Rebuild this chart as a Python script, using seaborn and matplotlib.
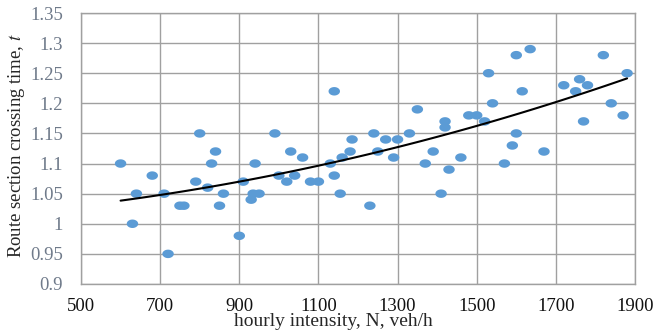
import numpy as np
import pandas as pd
import matplotlib
matplotlib.use("Agg")
import matplotlib.pyplot as plt
from matplotlib.path import Path
import seaborn as sns

intensity = [600, 630, 640, 680, 710, 720, 750, 760, 790, 800, 820, 830, 840, 850, 860,
             900, 910, 930, 935, 940, 950, 990, 1000, 1020, 1030, 1040, 1060, 1080, 1100, 1130,
             1140, 1140, 1155, 1160, 1180, 1185, 1230, 1240, 1250, 1270, 1290, 1300, 1330, 1350,
             1370, 1390, 1410, 1420, 1420, 1430, 1460, 1480, 1500, 1520, 1530, 1540, 1570, 1590,
             1600, 1600, 1615, 1635, 1670, 1720, 1750, 1760, 1770, 1780, 1820, 1840, 1870, 1880]
crossing_time = [1.10, 1.00, 1.05, 1.08, 1.05, 0.95, 1.03, 1.03, 1.07, 1.15, 1.06, 1.10, 1.12, 1.03, 1.05,
                 0.98, 1.07, 1.04, 1.05, 1.10, 1.05, 1.15, 1.08, 1.07, 1.12, 1.08, 1.11, 1.07, 1.07, 1.10,
                 1.22, 1.08, 1.05, 1.11, 1.12, 1.14, 1.03, 1.15, 1.12, 1.14, 1.11, 1.14, 1.15, 1.19,
                 1.10, 1.12, 1.05, 1.17, 1.16, 1.09, 1.11, 1.18, 1.18, 1.17, 1.25, 1.20, 1.10, 1.13,
                 1.15, 1.28, 1.22, 1.29, 1.12, 1.23, 1.22, 1.24, 1.17, 1.23, 1.28, 1.20, 1.18, 1.25]

x_ticks = [500, 700, 900, 1100, 1300, 1500, 1700, 1900]
y_ticks = [0.9, 0.95, 1.0, 1.05, 1.1, 1.15, 1.2, 1.25, 1.3, 1.35]
y_tick_labels = ["0.9", "0.95", "1", "1.05", "1.1", "1.15", "1.2", "1.25", "1.3", "1.35"]

df = pd.DataFrame({"N": intensity, "t": crossing_time})

sns.set_style("white")
plt.rcParams["font.family"] = ["Liberation Serif", "DejaVu Serif"]
plt.rcParams["mathtext.fontset"] = "stix"

fig = plt.figure(figsize=(6.57, 3.36), dpi=100)
ax = fig.add_axes([0.1233, 0.1548, 0.8432, 0.8065])

theta = np.linspace(0, 2 * np.pi, 40)
ellipse = Path(np.column_stack([1.35 * np.cos(theta), np.sin(theta)]), closed=True)

sns.scatterplot(data=df, x="N", y="t", ax=ax, marker=ellipse, s=68,
                color="#5B9BD5", edgecolor="none", zorder=3)
sns.regplot(data=df, x="N", y="t", ax=ax, order=2, ci=None, scatter=False,
            line_kws={"color": "black", "lw": 1.5, "zorder": 4})

ax.set_xlim(500, 1900)
ax.set_ylim(0.9, 1.35)
ax.set_xticks(x_ticks)
ax.set_xticklabels([str(v) for v in x_ticks], fontsize=13.5, color="#111111")
ax.set_yticks(y_ticks)
ax.set_yticklabels(y_tick_labels, fontsize=13.5, color="#6f7a8a")
ax.tick_params(axis="x", length=0, pad=10)
ax.tick_params(axis="y", length=0, pad=13)
ax.grid(True, color="#a0a0a0", lw=1.0, zorder=0)
for s in ax.spines.values():
    s.set_color("#a0a0a0")
    s.set_linewidth(1.0)
ax.set_axisbelow(True)
ax.set_xlabel("hourly intensity, N, veh/h", fontsize=14)
ax.xaxis.set_label_coords(0.455, -0.108)
ax.set_ylabel("Route section crossing time, $t$", fontsize=13.5)
ax.yaxis.set_label_coords(-0.098, 0.51)

fig.savefig("out.png", dpi=100)
